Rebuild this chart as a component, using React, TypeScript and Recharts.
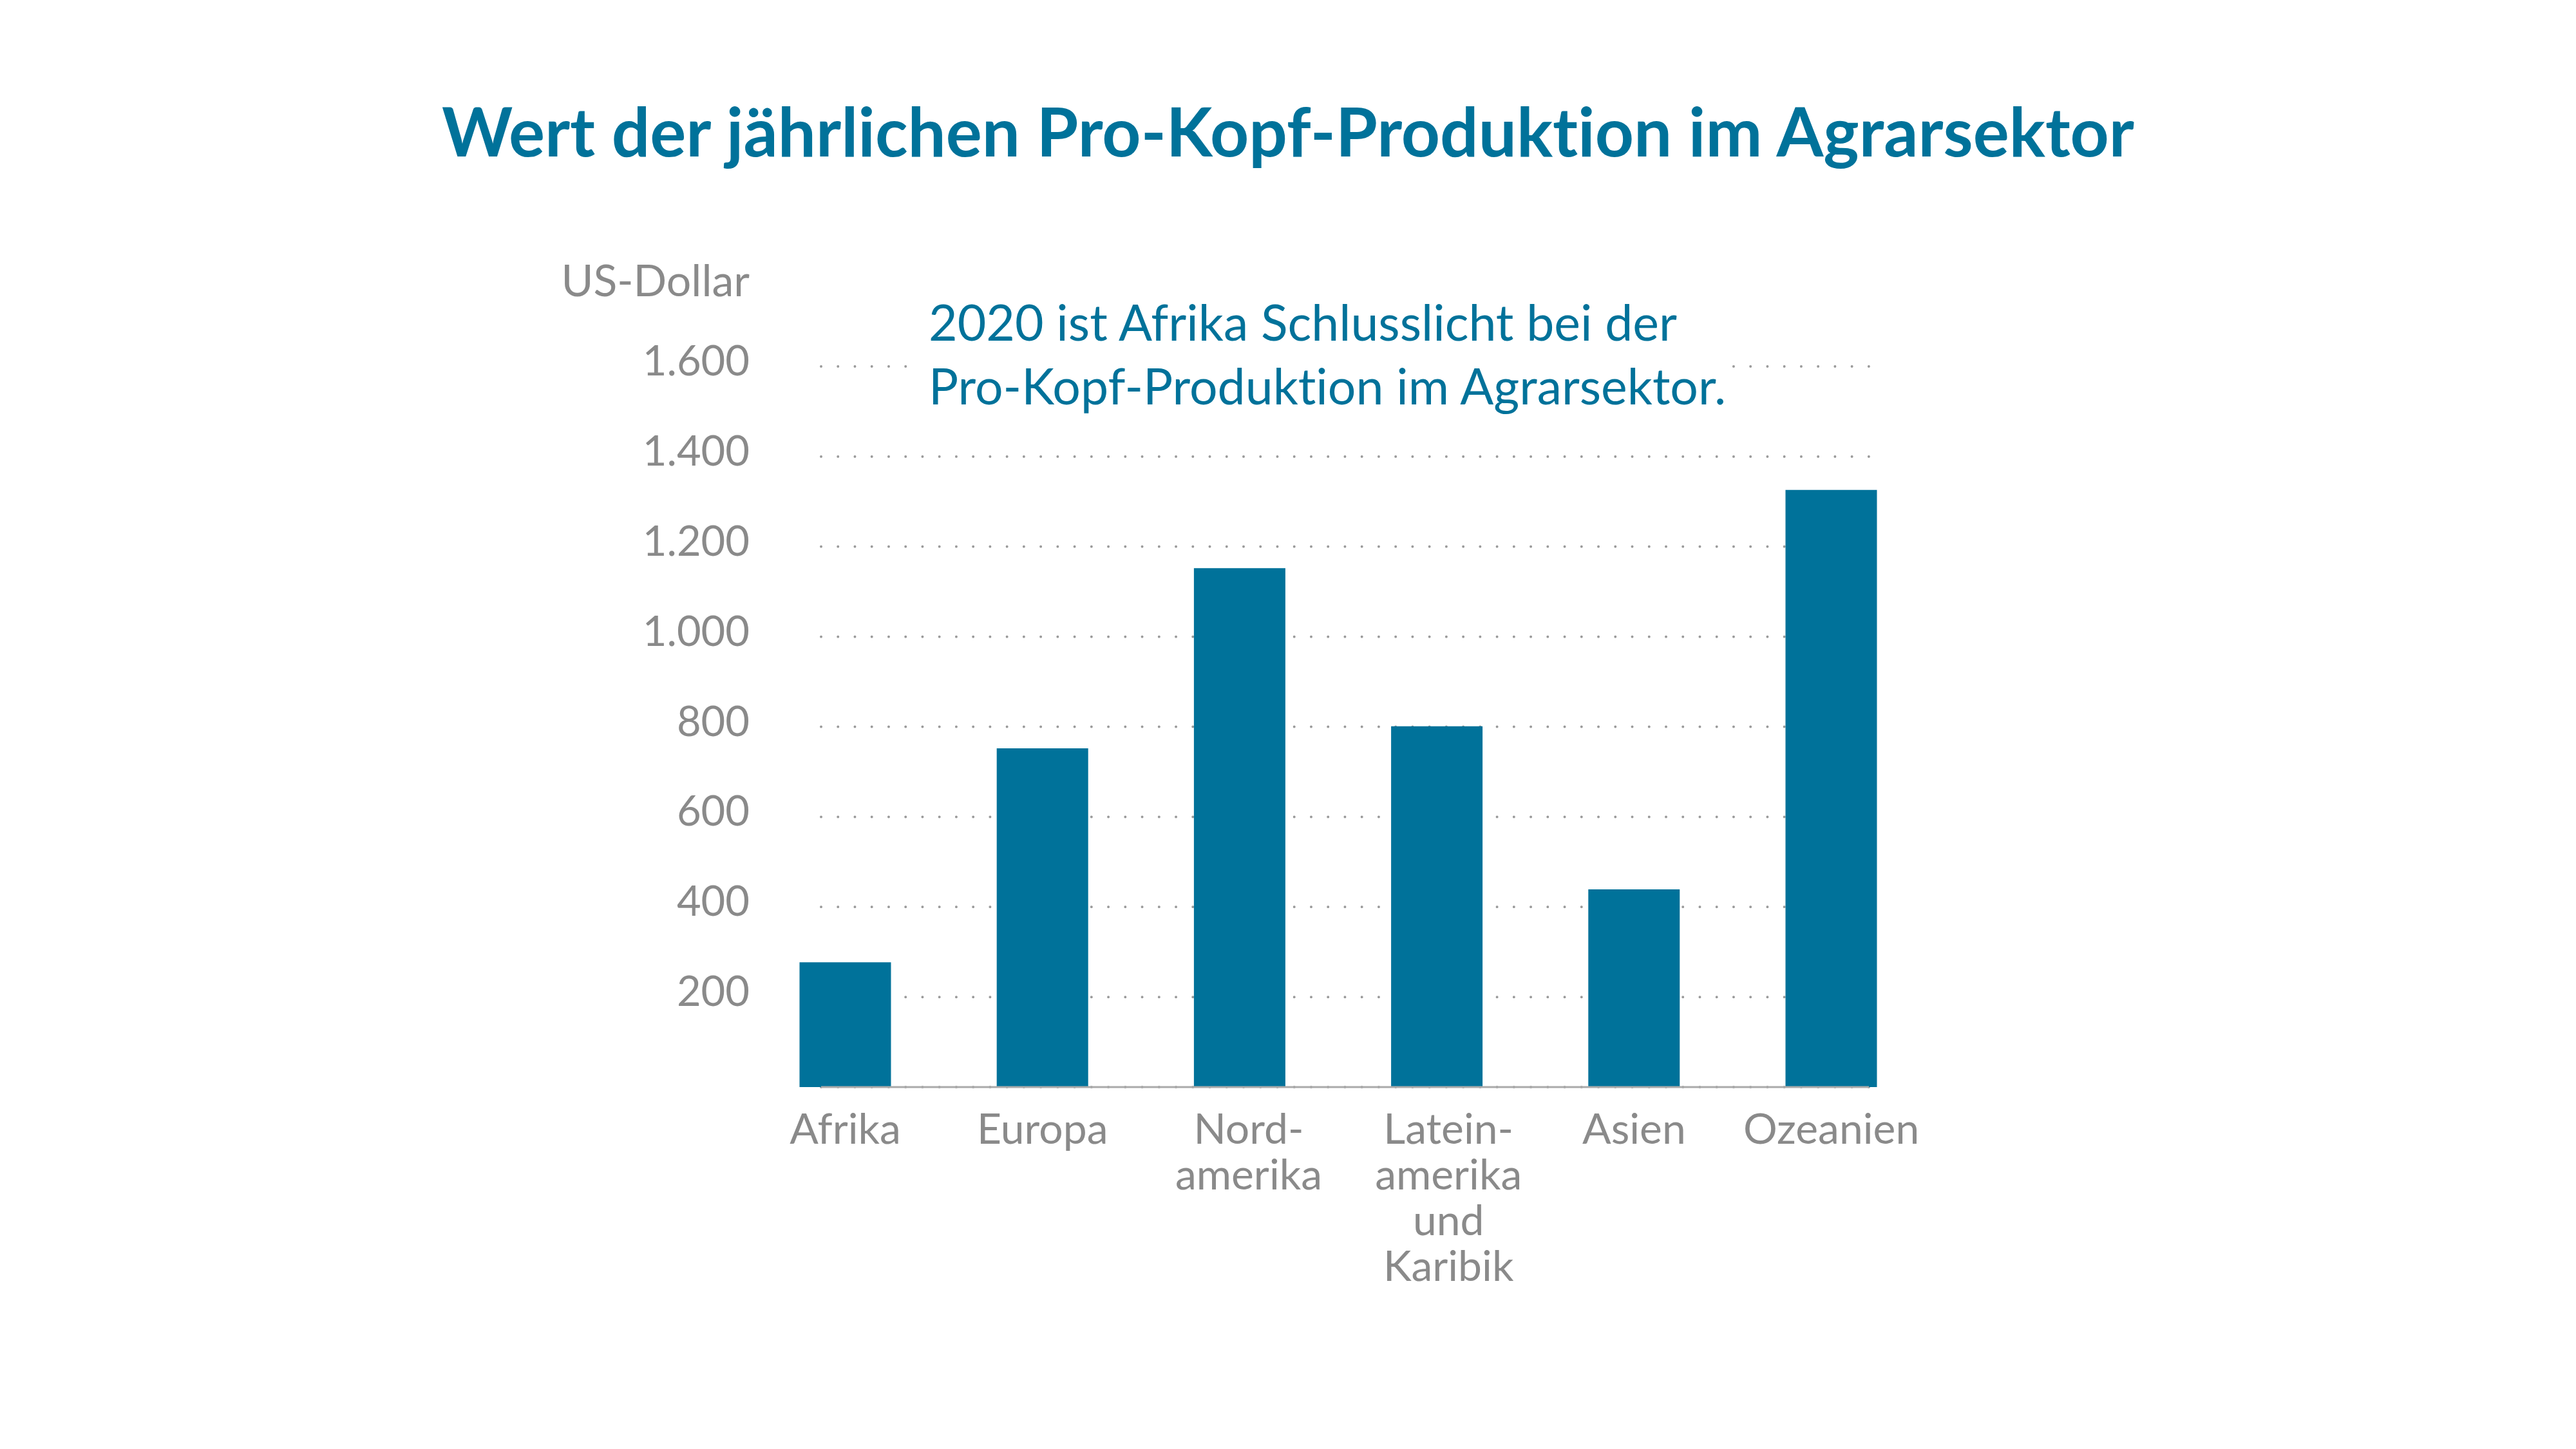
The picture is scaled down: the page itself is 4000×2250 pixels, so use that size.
import React from 'react';
import { BarChart, Bar, XAxis, YAxis, CartesianGrid } from 'recharts';

// data (US-Dollar per capita, 2020)
const regions = ['Afrika', 'Europa', 'Nord-\namerika', 'Latein-\namerika\nund\nKaribik', 'Asien', 'Ozeanien'];
const production = [277, 752, 1152, 801, 439, 1326];
const yTicks = [200, 400, 600, 800, 1000, 1200, 1400, 1600];

const title = 'Wert der jährlichen Pro-Kopf-Produktion im Agrarsektor';
const unitLabel = 'US-Dollar';
const noteLines = ['2020 ist Afrika Schlusslicht bei der', 'Pro-Kopf-Produktion im Agrarsektor.'];

const TEAL = '#00729a';
const GREY = '#8a8a8a';
const FONT = 'Lato, "Open Sans", sans-serif';

const data = regions.map((r, i) => ({ region: r, value: production[i] }));

const fmt = (v: number) => String(v).replace(/\B(?=(\d{3})+(?!\d))/g, '.');

// the multi-line labels sit a little right of their bar centre in the original
const labelShift: Record<string, number> = { 'Nord-\namerika': 14, 'Latein-\namerika\nund\nKaribik': 18 };

const YTick = (props: any) => {
  const { x, y, payload } = props;
  return (
    <text x={x} y={y + 14} textAnchor="end" fill={GREY} fontSize={65} fontFamily={FONT}>
      {fmt(payload.value)}
    </text>
  );
};

const XTick = (props: any) => {
  const { x, y, payload } = props;
  const lines = String(payload.value).split('\n');
  const cx = x + (labelShift[payload.value] || 0);
  return (
    <text x={cx} y={y} textAnchor="middle" fill={GREY} fontSize={66} fontFamily={FONT}>
      {lines.map((l, i) => (
        <tspan key={i} x={cx} dy={i === 0 ? 88 : 71}>{l}</tspan>
      ))}
    </text>
  );
};

export default function App() {
  return (
    <div
      style={{
        position: 'absolute', left: 0, top: 0, width: 4000, height: 2250,
        background: '#fff', fontVariantLigatures: 'none',
      }}
    >
      <BarChart
        width={4000}
        height={2250}
        data={data}
        margin={{ top: 569, right: 1098, bottom: 162, left: 1075 }}
      >
        <CartesianGrid
          vertical={false}
          stroke="#9a9a9a"
          strokeWidth={4}
          strokeDasharray="0 26.24"
          strokeLinecap="round"
        />
        <XAxis
          dataKey="region"
          interval={0}
          height={400}
          tickLine={false}
          tickSize={0}
          tickMargin={0}
          axisLine={{ stroke: '#aaaaaa', strokeWidth: 3 }}
          padding={{ left: -115.5, right: -94.7 }}
          tick={<XTick />}
        />
        <YAxis
          width={200}
          domain={[0, 1600]}
          ticks={yTicks}
          axisLine={false}
          tickLine={false}
          tickSize={0}
          tickMargin={111}
          tick={<YTick />}
        />
        <Bar dataKey="value" fill={TEAL} barSize={142} isAnimationActive={false} />
      </BarChart>
      <svg width={4000} height={2250} style={{ position: 'absolute', left: 0, top: 0, pointerEvents: 'none' }}>
        <text x={2000} y={243} textAnchor="middle" fill={TEAL} fontSize={105} fontWeight={700} fontFamily={FONT}>
          {title}
        </text>
        <text x={1164} y={460} textAnchor="end" fill={GREY} fontSize={68} fontFamily={FONT}>
          {unitLabel}
        </text>
        <rect x={1412} y={455} width={1274} height={205} fill="#fff" />
        {noteLines.map((l, i) => (
          <text key={i} x={1442} y={529 + i * 99} fill={TEAL} fontSize={77} fontFamily={FONT}>
            {l}
          </text>
        ))}
      </svg>
    </div>
  );
}
